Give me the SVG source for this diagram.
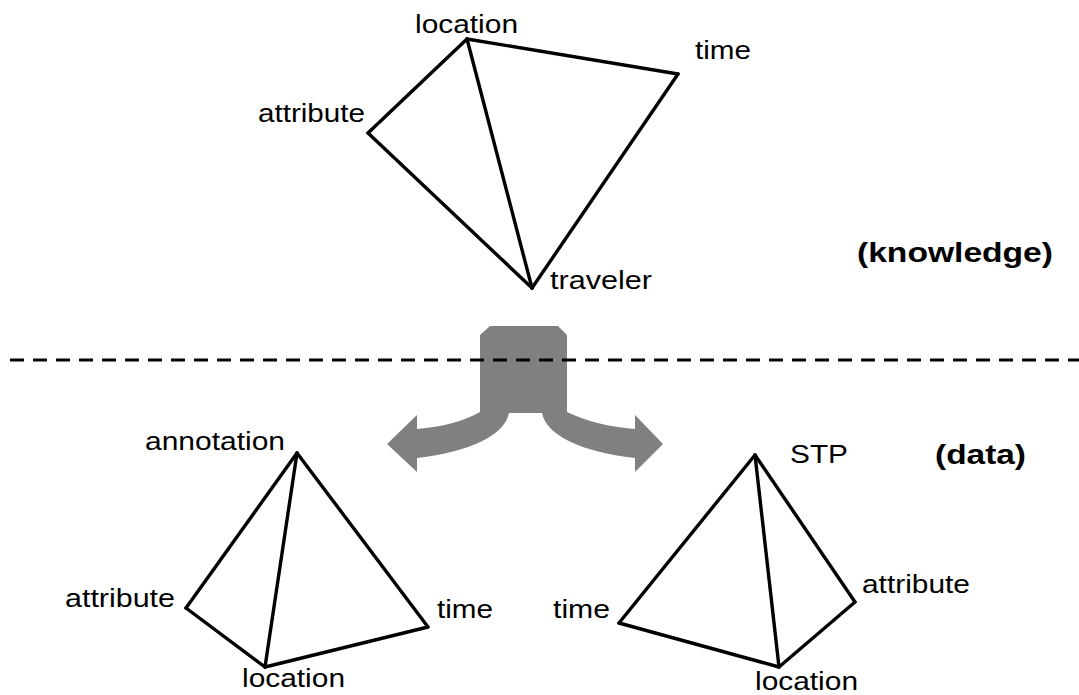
<svg xmlns="http://www.w3.org/2000/svg" width="1079" height="695" viewBox="0 0 1079 695">
<style>
.e{stroke:#000;stroke-width:3.4;fill:none;stroke-linejoin:miter;stroke-linecap:round}
.t{font-family:"Liberation Sans",Arial,sans-serif;font-size:25px;fill:#000}
.b{font-family:"Liberation Sans",Arial,sans-serif;font-size:28px;font-weight:bold;fill:#000}
</style>
<rect width="1079" height="695" fill="#fff"/>
<g id="arrow">
<path fill="#808080" d="M 490 326 L 558 326 L 567 335 L 567 412 Q 596 426 635 429 L 635 415 L 663 444 L 635 472 L 635 458 C 581 452 546 435 542 413 L 509 413 C 505 435 470 452 417 458 L 417 472 L 387 444 L 417 415 L 417 429 Q 455 426 480 412 L 480 335 Z"/>
</g>
<g id="divider">
<line x1="10" y1="360" x2="1079" y2="360" stroke="#000" stroke-width="3" stroke-dasharray="14 9"/>
</g>
<g id="connectors">
<g id="knowledge-edges">
<line class="e" x1="467" y1="39" x2="368" y2="133"/>
<line class="e" x1="467" y1="39" x2="678" y2="74"/>
<line class="e" x1="467" y1="39" x2="532" y2="288"/>
<line class="e" x1="368" y1="133" x2="532" y2="288"/>
<line class="e" x1="678" y1="74" x2="532" y2="288"/>
</g>
<g id="left-edges">
<line class="e" x1="297" y1="453" x2="186" y2="608"/>
<line class="e" x1="297" y1="453" x2="265" y2="667"/>
<line class="e" x1="297" y1="453" x2="428" y2="627"/>
<line class="e" x1="186" y1="608" x2="265" y2="667"/>
<line class="e" x1="265" y1="667" x2="428" y2="627"/>
</g>
<g id="right-edges">
<line class="e" x1="755" y1="455" x2="619" y2="623"/>
<line class="e" x1="755" y1="455" x2="779" y2="667"/>
<line class="e" x1="755" y1="455" x2="855" y2="602"/>
<line class="e" x1="619" y1="623" x2="779" y2="667"/>
<line class="e" x1="779" y1="667" x2="855" y2="602"/>
</g>
</g>
<g id="k-location"><text class="t" x="415" y="33" textLength="103" lengthAdjust="spacingAndGlyphs">location</text></g>
<g id="k-attribute"><text class="t" x="258" y="122" textLength="107" lengthAdjust="spacingAndGlyphs">attribute</text></g>
<g id="k-time"><text class="t" x="695" y="59" textLength="56" lengthAdjust="spacingAndGlyphs">time</text></g>
<g id="k-traveler"><text class="t" x="550" y="289" textLength="102" lengthAdjust="spacingAndGlyphs">traveler</text></g>
<g id="label-knowledge"><text class="b" x="857" y="262" textLength="196" lengthAdjust="spacingAndGlyphs">(knowledge)</text></g>
<g id="label-data"><text class="b" x="935" y="464" textLength="91" lengthAdjust="spacingAndGlyphs">(data)</text></g>
<g id="l-annotation"><text class="t" x="145" y="450" textLength="140" lengthAdjust="spacingAndGlyphs">annotation</text></g>
<g id="l-attribute"><text class="t" x="65" y="607" textLength="110" lengthAdjust="spacingAndGlyphs">attribute</text></g>
<g id="l-time"><text class="t" x="437" y="618" textLength="56" lengthAdjust="spacingAndGlyphs">time</text></g>
<g id="l-location"><text class="t" x="242" y="687" textLength="103" lengthAdjust="spacingAndGlyphs">location</text></g>
<g id="r-stp"><text class="t" x="790" y="463" textLength="58" lengthAdjust="spacingAndGlyphs">STP</text></g>
<g id="r-attribute"><text class="t" x="862" y="593" textLength="108" lengthAdjust="spacingAndGlyphs">attribute</text></g>
<g id="r-time"><text class="t" x="553" y="618" textLength="57" lengthAdjust="spacingAndGlyphs">time</text></g>
<g id="r-location"><text class="t" x="755" y="690" textLength="103" lengthAdjust="spacingAndGlyphs">location</text></g>
</svg>
